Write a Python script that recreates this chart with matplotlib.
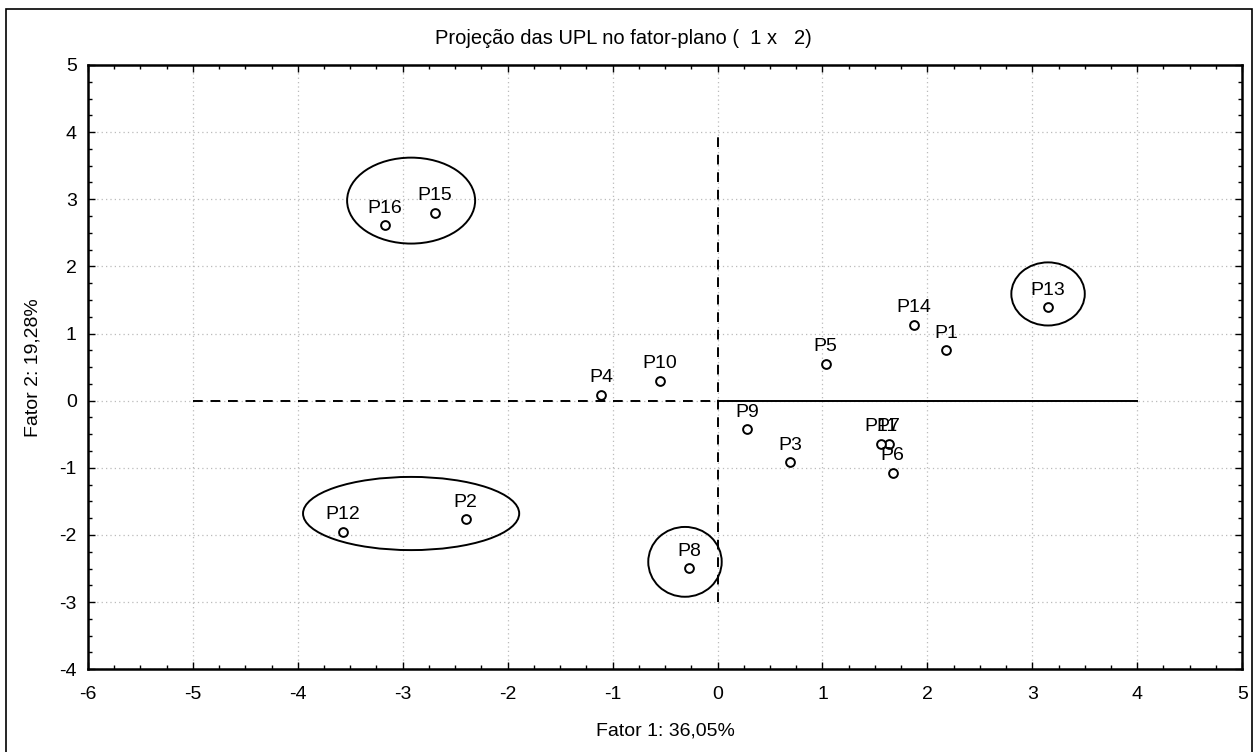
import matplotlib
matplotlib.use("Agg")
import matplotlib.pyplot as plt
from matplotlib.patches import Ellipse, Rectangle
from matplotlib.ticker import MultipleLocator

plt.rcParams['font.family'] = ['Liberation Sans', 'DejaVu Sans']
plt.rcParams['axes.unicode_minus'] = False

# projected UPL scores (factor 1, factor 2)
labels = ['P1', 'P2', 'P3', 'P4', 'P5', 'P6', 'P7', 'P8', 'P9', 'P10',
          'P11', 'P12', 'P13', 'P14', 'P15', 'P16']
fator1 = [2.18, -2.40, 0.69, -1.11, 1.03, 1.67, 1.63, -0.27, 0.28, -0.55,
          1.56, -3.57, 3.15, 1.87, -2.69, -3.17]
fator2 = [0.75, -1.76, -0.92, 0.09, 0.55, -1.07, -0.64, -2.49, -0.42, 0.30,
          -0.64, -1.95, 1.39, 1.13, 2.80, 2.61]

# group ellipses: center x, center y, width, height
ell_cx = [-2.92, 3.15, -2.92, -0.31]
ell_cy = [2.98, 1.59, -1.68, -2.40]
ell_w = [1.22, 0.70, 2.06, 0.70]
ell_h = [1.28, 0.94, 1.09, 1.04]

fs = 14

fig = plt.figure(figsize=(12.56, 7.52), dpi=100)
ax = fig.add_axes([0.070, 0.110, 0.919, 0.8036])

# outer frame of the figure
fig.patches.append(Rectangle((6/1256, -0.01), 1246/1256, 1 - 9/752 + 0.01,
                             transform=fig.transFigure, fill=False,
                             edgecolor='black', linewidth=1.2))

ax.set_xlim(-6, 5)
ax.set_ylim(-4, 5)
ax.xaxis.set_major_locator(MultipleLocator(1))
ax.yaxis.set_major_locator(MultipleLocator(1))
ax.xaxis.set_minor_locator(MultipleLocator(0.25))
ax.yaxis.set_minor_locator(MultipleLocator(0.25))
ax.tick_params(which='both', direction='in', top=True, right=True,
               labelsize=fs, colors='black')
ax.tick_params(which='major', length=5, width=1)
ax.tick_params(which='minor', length=3, width=1)
ax.tick_params(axis='x', pad=12)
ax.tick_params(axis='y', pad=8)
for s in ax.spines.values():
    s.set_linewidth(1.8)
ax.grid(True, which='major', linestyle=(0, (1, 2.5)), color='#bbbbbb', linewidth=0.9)
ax.set_axisbelow(True)

# reference axes
ax.plot([-5, 0], [0, 0], color='black', linestyle=(0, (5, 4)), linewidth=1.4)
ax.plot([0, 4], [0, 0], color='black', linestyle='-', linewidth=1.4)
ax.plot([0, 0], [-3, 4], color='black', linestyle=(0, (5, 4)), linewidth=1.4)

ax.scatter(fator1, fator2, s=40, facecolors='white', edgecolors='black',
           linewidths=1.4, zorder=5)
for lab, x, y in zip(labels, fator1, fator2):
    ax.annotate(lab, (x, y), xytext=(0, 6), textcoords='offset points',
                ha='center', va='bottom', fontsize=fs, zorder=6)

for cx, cy, w, h in zip(ell_cx, ell_cy, ell_w, ell_h):
    ax.add_patch(Ellipse((cx, cy), w, h, fill=False, edgecolor='black',
                         linewidth=1.4, zorder=4))

fig.text(623/1256, 1 - 38/752, 'Projeção das UPL no fator-plano (  1 x   2)',
         fontsize=14.5, ha='center', va='center')
ax.set_xlabel('Fator 1: 36,05%', fontsize=fs, labelpad=14)
ax.set_ylabel('Fator 2: 19,28%', fontsize=fs, labelpad=13)

fig.savefig('out.png', dpi=100)
